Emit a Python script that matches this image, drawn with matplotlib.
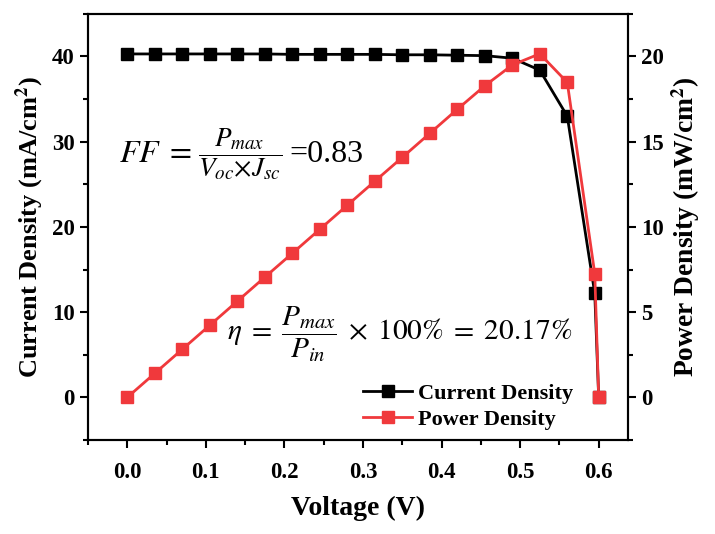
import matplotlib.pyplot as plt
from matplotlib.offsetbox import TextArea, HPacker, AnnotationBbox
import numpy as np

plt.rcParams['font.family'] = ['Liberation Serif', 'DejaVu Serif']
plt.rcParams['mathtext.fontset'] = 'stix'

# Данні
voltage = [0.0, 0.035, 0.07, 0.105, 0.14, 0.175, 0.21, 0.245, 0.28, 0.315,
           0.35, 0.385, 0.42, 0.455, 0.49, 0.525, 0.56, 0.595, 0.6]
current = [40.3, 40.3, 40.3, 40.3, 40.3, 40.3, 40.25, 40.25, 40.25, 40.25,
           40.2, 40.2, 40.15, 40.1, 39.8, 38.4, 33.0, 12.2, 0.0]
power = [0.0, 1.41, 2.82, 4.23, 5.64, 7.05, 8.45, 9.86, 11.27, 12.68,
         14.08, 15.49, 16.9, 18.28, 19.5, 20.16, 18.48, 7.26, 0.0]

red = '#F0393C'

fig = plt.figure(figsize=(7.15, 5.34), dpi=100)
ax = fig.add_axes([0.123, 0.176, 0.755, 0.798])
ax2 = ax.twinx()

l1, = ax.plot(voltage, current, '-s', color='black', lw=2, ms=8.5, label='Current Density')
l2, = ax2.plot(voltage, power, '-s', color=red, lw=2, ms=8.5, label='Power Density')

ax.set_xlim(-0.036, 0.637)
ax.set_ylim(-4, 45)
ax2.set_ylim(-2, 22.5)

ax.set_xticks(np.arange(0, 0.61, 0.1))
ax.set_xticks(np.arange(-0.05, 0.64, 0.05), minor=True)
ax.set_yticks([0, 10, 20, 30, 40])
ax.set_yticks([-5, 5, 15, 25, 35, 45], minor=True)
ax2.set_yticks([0, 5, 10, 15, 20])
ax2.set_yticks([-2.5, 2.5, 7.5, 12.5, 17.5, 22.5], minor=True)
ax.xaxis.set_major_formatter(plt.FormatStrFormatter('%.1f'))

for a in (ax, ax2):
    a.tick_params(which='major', direction='out', length=6, width=1.5, labelsize=16.5)
    a.tick_params(which='minor', direction='out', length=3.5, width=1.5)
    for s in a.spines.values():
        s.set_linewidth(1.5)
    for t in a.get_xticklabels() + a.get_yticklabels():
        t.set_fontweight('bold')
ax.tick_params(axis='x', pad=10)

ax.set_xlabel('Voltage (V)', fontsize=20, fontweight='bold', labelpad=9)
ax.set_ylabel('Current Density (mA/cm$^{\\mathbf{2}}$)', fontsize=19, fontweight='bold')
ax2.set_ylabel('Power Density (mW/cm$^{\\mathbf{2}}$)', fontsize=19.8, fontweight='bold')

# FF: велика ліва частина, менший дріб
ff_parts = [TextArea(r'$FF\;=$', textprops=dict(fontsize=23)),
            TextArea(r'$\dfrac{P_{max}}{V_{oc}{\times}J_{sc}}$', textprops=dict(fontsize=19.5)),
            TextArea('=0.83', textprops=dict(fontsize=23))]
ff_box = HPacker(children=ff_parts, align='center', pad=0, sep=5)
ab = AnnotationBbox(ff_box, (-0.011, 28.5), xycoords='data', box_alignment=(0, 0.5),
                    frameon=False, pad=0)
ax.add_artist(ab)

ax.text(0.127, 7.4, r'$\eta\;=\;\dfrac{P_{max}}{P_{in}}\;\times\;100\%\;=\;20.17\%$',
        fontsize=21.2, va='center')

leg = ax.legend(handles=[l1, l2], loc='lower right', bbox_to_anchor=(0.935, -0.024),
                frameon=False, handlelength=2.2, handletextpad=0.25,
                labelspacing=0.25, prop={'weight': 'bold', 'size': 16})

plt.savefig('out.png', dpi=100)
